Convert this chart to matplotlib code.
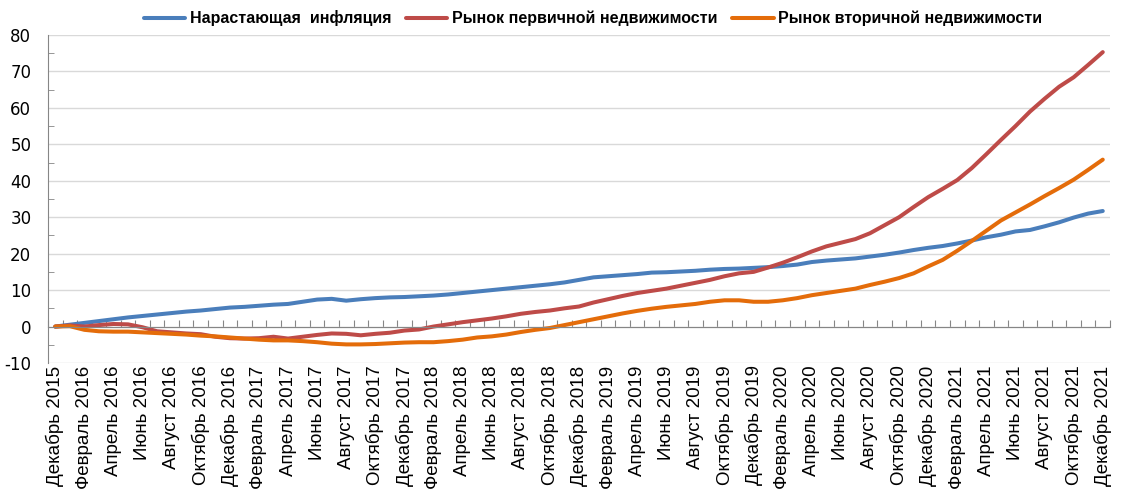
import numpy as np
import matplotlib
matplotlib.use("Agg")
import matplotlib.pyplot as plt
from matplotlib.ticker import FixedLocator, NullFormatter, FixedFormatter

# ============================
# Data (monthly, Dec 2015 .. Dec 2021), % change from Dec 2015
# ============================
month_names = ["Декабрь", "Январь", "Февраль", "Март", "Апрель", "Май", "Июнь",
               "Июль", "Август", "Сентябрь", "Октябрь", "Ноябрь"]
start_year = 2015

inflation = [0.0, 0.5, 1.0, 1.5, 2.0, 2.5, 2.9, 3.3, 3.7, 4.1, 4.4, 4.8,
             5.2, 5.4, 5.7, 6.0, 6.2, 6.8, 7.4, 7.6, 7.1, 7.5, 7.8, 8.0,
             8.1, 8.3, 8.5, 8.8, 9.2, 9.6, 10.0, 10.4, 10.8, 11.2, 11.6, 12.1,
             12.8, 13.5, 13.8, 14.1, 14.4, 14.8, 14.9, 15.1, 15.3, 15.6, 15.8, 15.9,
             16.1, 16.3, 16.6, 17.0, 17.7, 18.1, 18.4, 18.7, 19.2, 19.7, 20.3, 21.0,
             21.6, 22.1, 22.8, 23.6, 24.5, 25.2, 26.1, 26.5, 27.5, 28.6, 29.9, 31.0,
             31.7]

primary = [0.0, 0.3, 0.0, 0.4, 0.7, 0.6, -0.2, -1.3, -1.6, -1.9, -2.1, -2.8,
           -3.2, -3.3, -3.2, -2.8, -3.3, -2.8, -2.3, -1.9, -2.0, -2.4, -2.0, -1.7,
           -1.1, -0.8, 0.0, 0.6, 1.2, 1.7, 2.2, 2.8, 3.5, 4.0, 4.4, 5.0,
           5.5, 6.6, 7.5, 8.4, 9.2, 9.8, 10.4, 11.2, 12.0, 12.8, 13.8, 14.6,
           15.0, 16.2, 17.5, 19.0, 20.6, 22.0, 23.0, 24.0, 25.6, 27.8, 30.0, 32.8,
           35.5, 37.8, 40.2, 43.5, 47.3, 51.2, 55.0, 59.0, 62.5, 65.8, 68.4, 71.8,
           75.3]

secondary = [0.0, 0.1, -0.9, -1.3, -1.4, -1.4, -1.6, -1.8, -2.0, -2.2, -2.5, -2.7,
             -3.0, -3.3, -3.6, -3.8, -3.8, -4.0, -4.3, -4.7, -4.9, -4.9, -4.8, -4.6,
             -4.4, -4.3, -4.3, -4.0, -3.6, -3.0, -2.7, -2.2, -1.5, -0.9, -0.4, 0.4,
             1.2, 2.0, 2.8, 3.6, 4.3, 4.9, 5.4, 5.8, 6.2, 6.8, 7.2, 7.2,
             6.8, 6.8, 7.2, 7.8, 8.6, 9.2, 9.8, 10.4, 11.4, 12.3, 13.3, 14.6,
             16.5, 18.3, 20.8, 23.5, 26.3, 29.1, 31.3, 33.5, 35.8, 38.0, 40.3, 43.0,
             45.8]

series_names = ["Нарастающая  инфляция", "Рынок первичной недвижимости",
                "Рынок вторичной недвижимости"]
colors = ["#4A7EBB", "#BE4B48", "#E46C0A"]

n = len(inflation)
labels = []
for i in range(n):
    labels.append(f"{month_names[i % 12]} {start_year + (i + 11) // 12}")

# ============================
# Plot
# ============================
plt.rcParams['font.family'] = ['Liberation Sans', 'DejaVu Sans']
plt.rcParams['axes.unicode_minus'] = False

fig = plt.figure(figsize=(11.32, 4.95), dpi=100)
ax = fig.add_axes([0.0424, 0.2667, 0.9382, 0.6626])

x = np.arange(n)
for vals, name, c in zip([inflation, primary, secondary], series_names, colors):
    ax.plot(x, vals, color=c, lw=2.9, label=name, solid_capstyle='round',
            solid_joinstyle='round')

ax.set_xlim(-0.5, n - 0.5)
ax.set_ylim(-10, 80)

# y axis
ax.set_yticks(np.arange(-10, 81, 10))
ax.yaxis.set_minor_locator(FixedLocator(np.arange(-5, 80, 10)))
ax.tick_params(axis='y', which='major', length=0, labelsize=12, pad=12,
               labelcolor='#000000')
ax.tick_params(axis='y', which='minor', direction='in', length=4, color='#868686')
for t in ax.get_yticklabels():
    t.set_family(['DejaVu Sans'])
ax.grid(axis='y', which='major', color='#D9D9D9', lw=1)
ax.set_axisbelow(True)

# x axis sits at zero, ticks between categories
ax.spines['bottom'].set_position(('data', 0))
ax.spines['bottom'].set_color('#868686')
ax.spines['left'].set_color('#868686')
ax.spines['top'].set_visible(False)
ax.spines['right'].set_visible(False)

ax.xaxis.set_major_locator(FixedLocator(np.arange(-0.5, n, 1)))
ax.xaxis.set_major_formatter(NullFormatter())
ax.tick_params(axis='x', which='major', direction='in', length=5, color='#868686')
ax.xaxis.set_minor_locator(FixedLocator(x[::2]))
ax.xaxis.set_minor_formatter(FixedFormatter(labels[::2]))
ax.tick_params(axis='x', which='minor', length=0, pad=28, labelsize=13.5,
               labelrotation=90)

leg = fig.legend(loc='upper center', bbox_to_anchor=(0.524, 1.008), ncol=3,
                 frameon=False, handlelength=2.6, columnspacing=0.9,
                 handletextpad=0.3, prop={'weight': 'bold', 'size': 11.5})

fig.savefig("out.png", dpi=100)
